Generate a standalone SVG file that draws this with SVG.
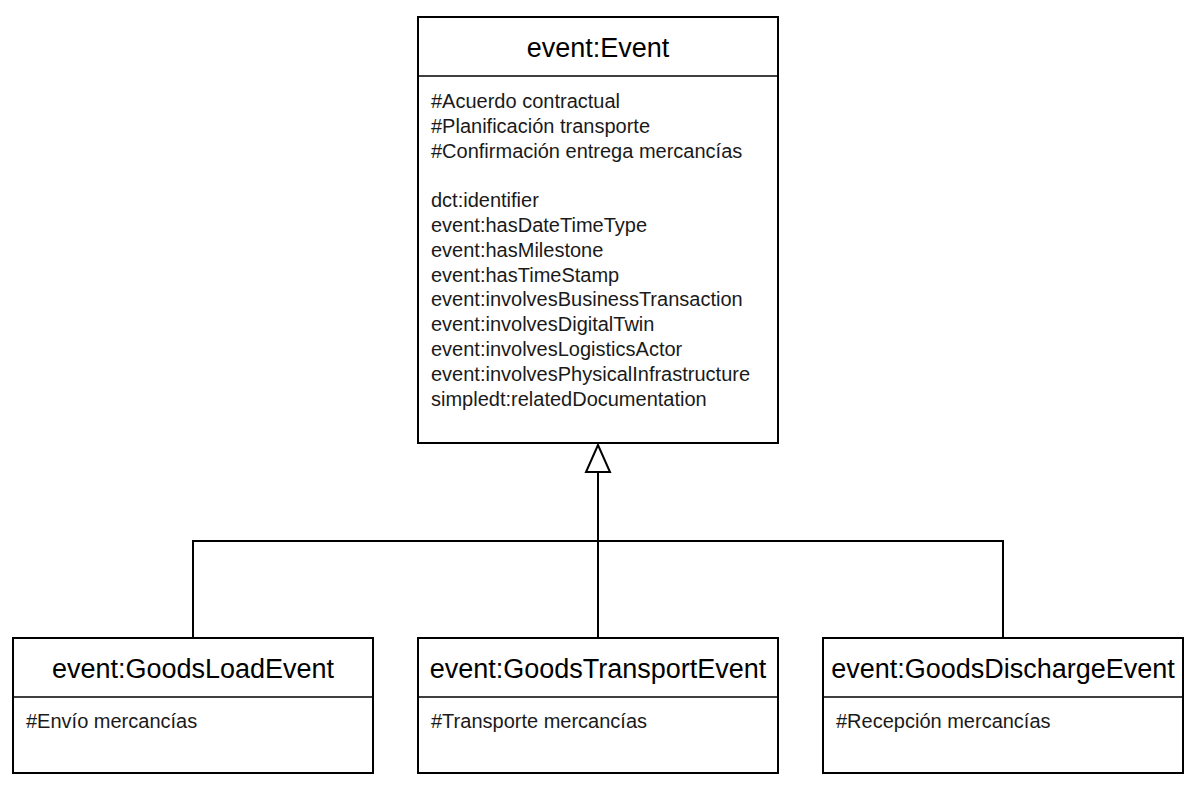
<svg xmlns="http://www.w3.org/2000/svg" width="1199" height="787" viewBox="0 0 1199 787">
<style>
.box{fill:#fff;stroke:#000;stroke-width:2}
.div{stroke:#000;stroke-width:1.6}
.title{font-family:"Liberation Sans",Arial,sans-serif;font-size:27px;fill:#000;text-anchor:middle}
.attr{font-family:"Liberation Sans",Arial,sans-serif;font-size:20px;fill:#1a1a1a}
.conn{fill:none;stroke:#000;stroke-width:2}
</style>
<rect width="1199" height="787" fill="#fff"/>
<g id="connectors">
<path class="conn" d="M193 638 V541 H1003 V638"/>
<path class="conn" d="M598 638 V472"/>
<polygon points="598,445 586,472 610,472" fill="#fff" stroke="#000" stroke-width="2"/>
</g>
<g id="event-Event">
<rect class="box" x="418" y="17" width="360" height="426"/>
<line class="div" x1="418" y1="76" x2="778" y2="76"/>
<text class="title" x="598" y="57">event:Event</text>
<text class="attr" x="431">
<tspan x="431" y="108">#Acuerdo contractual</tspan>
<tspan x="431" y="132.8">#Planificación transporte</tspan>
<tspan x="431" y="157.6">#Confirmación entrega mercancías</tspan>
<tspan x="431" y="207.2">dct:identifier</tspan>
<tspan x="431" y="232">event:hasDateTimeType</tspan>
<tspan x="431" y="256.8">event:hasMilestone</tspan>
<tspan x="431" y="281.6">event:hasTimeStamp</tspan>
<tspan x="431" y="306.4">event:involvesBusinessTransaction</tspan>
<tspan x="431" y="331.2">event:involvesDigitalTwin</tspan>
<tspan x="431" y="356">event:involvesLogisticsActor</tspan>
<tspan x="431" y="380.8">event:involvesPhysicalInfrastructure</tspan>
<tspan x="431" y="405.6">simpledt:relatedDocumentation</tspan>
</text>
</g>
<g id="event-GoodsLoadEvent">
<rect class="box" x="13" y="638" width="360" height="135"/>
<line class="div" x1="13" y1="697" x2="373" y2="697"/>
<text class="title" x="193" y="678">event:GoodsLoadEvent</text>
<text class="attr" x="26" y="728">#Envío mercancías</text>
</g>
<g id="event-GoodsTransportEvent">
<rect class="box" x="418" y="638" width="360" height="135"/>
<line class="div" x1="418" y1="697" x2="778" y2="697"/>
<text class="title" x="598" y="678">event:GoodsTransportEvent</text>
<text class="attr" x="431" y="728">#Transporte mercancías</text>
</g>
<g id="event-GoodsDischargeEvent">
<rect class="box" x="823" y="638" width="360" height="135"/>
<line class="div" x1="823" y1="697" x2="1183" y2="697"/>
<text class="title" x="1003" y="678">event:GoodsDischargeEvent</text>
<text class="attr" x="836" y="728">#Recepción mercancías</text>
</g>
</svg>
